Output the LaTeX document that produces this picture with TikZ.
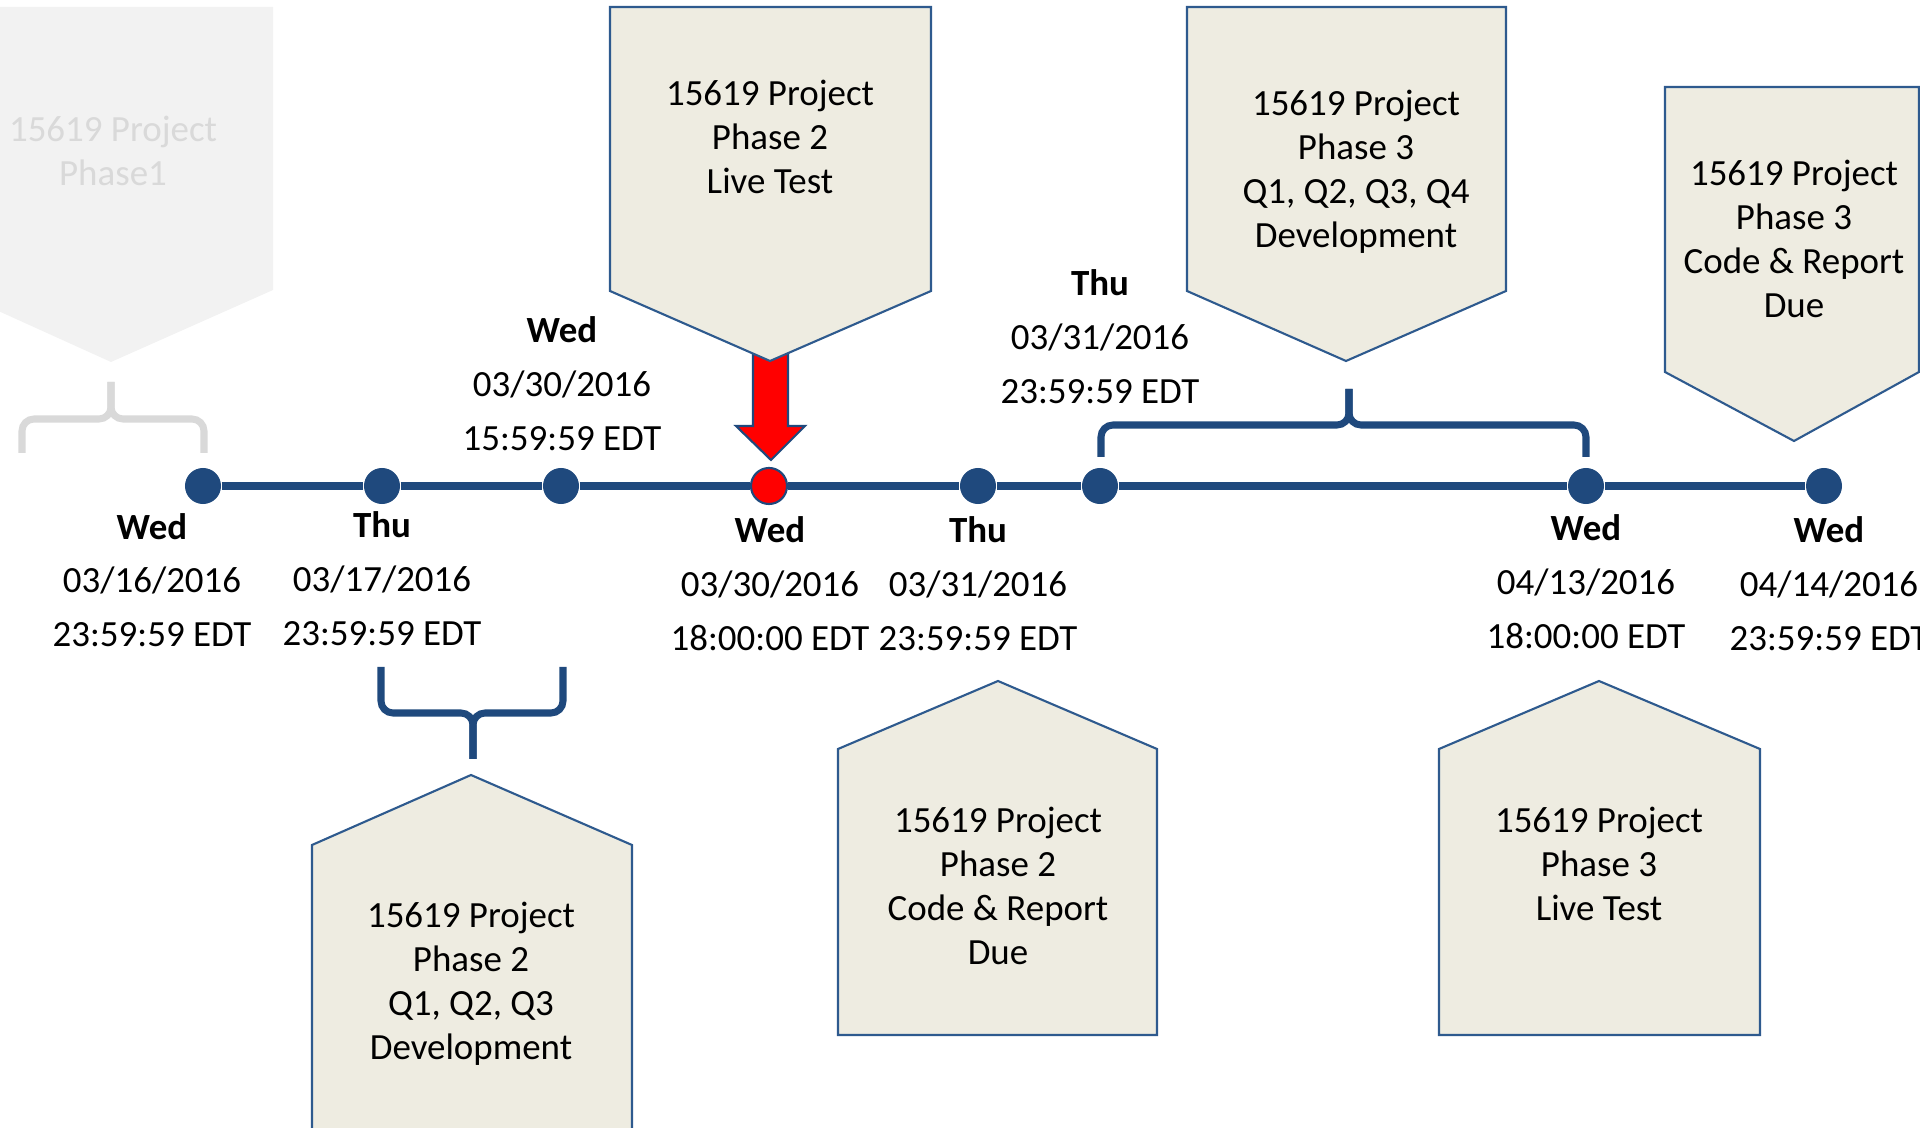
\documentclass[tikz,border=0pt]{standalone}
\usepackage{fontspec}
\setmainfont{Carlito}
\definecolor{tlblue}{HTML}{1F497D}
\definecolor{boxfill}{HTML}{EEECE1}
\definecolor{boxline}{HTML}{2E5A8E}
\definecolor{ghostfill}{HTML}{F2F2F2}
\definecolor{ghostgray}{HTML}{D9D9D9}
\tikzset{
  callout/.style={fill=boxfill,draw=boxline,line width=0.6pt},
  boxtext/.style={align=center,font=\fontsize{10.5}{12.5}\selectfont},
  datetext/.style={align=center,font=\fontsize{10.5}{15.3}\selectfont},
  dot/.style={circle,fill=tlblue,inner sep=0pt,minimum size=0.36cm},
  tline/.style={draw=tlblue,line width=2.2pt},
  brace/.style={draw=tlblue,line width=2pt,rounded corners=1.2mm},
}
\begin{document}
\begin{tikzpicture}[x=0.01cm,y=-0.01cm]
    \useasboundingbox (0,0) rectangle (1920,1128);
    \clip (0,0) rectangle (1920,1128);
    % faded phase 1
    \fill[ghostfill] (-48,7) -- (273,7) -- (273,290) -- (111,362) -- (-48,290) -- cycle;
    \node[boxtext,text=ghostgray] (p1txt) at (113,151) {15619 Project\\Phase1};
    \draw[brace,draw=ghostgray] (22,453) -- (22,419) -- (111,419) -- (111,382);
    \draw[brace,draw=ghostgray] (204,453) -- (204,419) -- (111,419) -- (111,382);
    % red arrow to live test
    \filldraw[fill=red,draw=tlblue,line width=0.6pt] (753,340) -- (788,340) -- (788,426)
        -- (805,426) -- (771,460) -- (736,426) -- (753,426) -- cycle;
    % callouts above
    \draw[callout] (610,7) -- (931,7) -- (931,291) -- (770,361) -- (610,291) -- cycle;
    \node[boxtext] (p2live) at (770,137) {15619 Project\\Phase 2\\Live Test};
    \draw[callout] (1187,7) -- (1506,7) -- (1506,291) -- (1346,361) -- (1187,291) -- cycle;
    \node[boxtext] (p3dev) at (1356,172) {15619 Project\\Phase 3\\Q1, Q2, Q3, Q4\\Development};
    \draw[callout] (1665,87) -- (1919,87) -- (1919,372) -- (1794,441) -- (1665,372) -- cycle;
    \node[boxtext] (p3due) at (1794,239) {15619 Project\\Phase 3\\Code \& Report\\Due};
    % callouts below
    \draw[callout] (312,1140) -- (312,845) -- (471,775) -- (632,845) -- (632,1140) -- cycle;
    \node[boxtext] (p2dev) at (471,984) {15619 Project\\Phase 2\\Q1, Q2, Q3\\Development};
    \draw[callout] (838,1035) -- (838,749) -- (998,681) -- (1157,749) -- (1157,1035) -- cycle;
    \node[boxtext] (p2due) at (998,886) {15619 Project\\Phase 2\\Code \& Report\\Due};
    \draw[callout] (1439,1035) -- (1439,749) -- (1599,681) -- (1760,749) -- (1760,1035) -- cycle;
    \node[boxtext] (p3live) at (1599,864) {15619 Project\\Phase 3\\Live Test};
    % braces
    \draw[brace] (381,667) -- (381,713) -- (473,713) -- (473,759);
    \draw[brace] (563,667) -- (563,713) -- (473,713) -- (473,759);
    \draw[brace] (1101,457) -- (1101,425) -- (1349,425) -- (1349,389);
    \draw[brace] (1586,457) -- (1586,425) -- (1349,425) -- (1349,389);
    % timeline
    \node[dot] (d1) at (203,486) {};
    \node[dot] (d2) at (382,486) {};
    \node[dot] (d3) at (561,486) {};
    \node[dot,fill=red,draw=tlblue,line width=0.6pt] (d4) at (769,486) {};
    \node[dot] (d5) at (978,486) {};
    \node[dot] (d6) at (1100,486) {};
    \node[dot] (d7) at (1586,486) {};
    \node[dot] (d8) at (1824,486) {};
    \draw[tline] (d1) -- (d2) -- (d3) -- (d4) -- (d5) -- (d6) -- (d7) -- (d8);
    % dates
    \node[datetext] (t1) at (152,580) {\textbf{Wed}\\03/16/2016\\23:59:59 EDT};
    \node[datetext] (t2) at (382,579) {\textbf{Thu}\\03/17/2016\\23:59:59 EDT};
    \node[datetext] (t3) at (562,384) {\textbf{Wed}\\03/30/2016\\15:59:59 EDT};
    \node[datetext] (t4) at (770,584) {\textbf{Wed}\\03/30/2016\\18:00:00 EDT};
    \node[datetext] (t5) at (978,584) {\textbf{Thu}\\03/31/2016\\23:59:59 EDT};
    \node[datetext] (t6) at (1100,337) {\textbf{Thu}\\03/31/2016\\23:59:59 EDT};
    \node[datetext] (t7) at (1586,582) {\textbf{Wed}\\04/13/2016\\18:00:00 EDT};
    \node[datetext] (t8) at (1829,584) {\textbf{Wed}\\04/14/2016\\23:59:59 EDT};
\end{tikzpicture}
\end{document}
